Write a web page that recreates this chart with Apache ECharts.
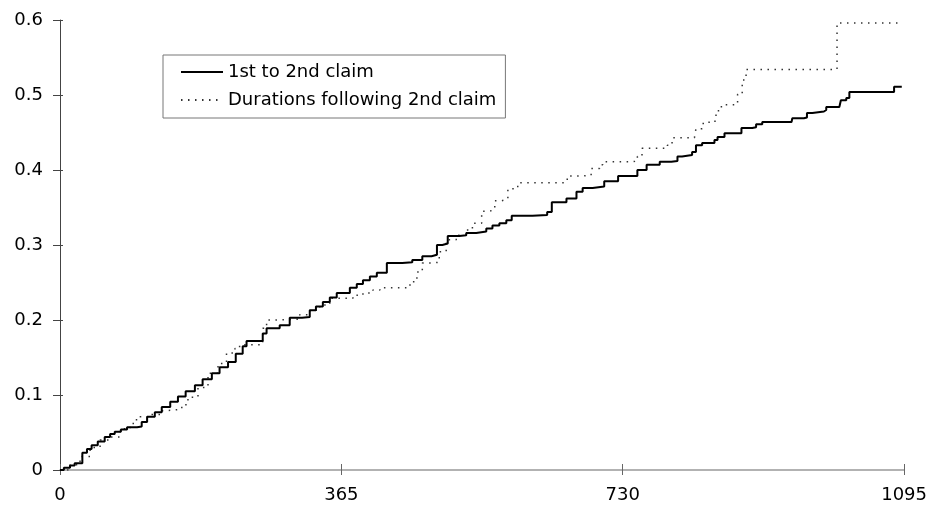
<!DOCTYPE html>
<html>
<head>
<meta charset="utf-8">
<script src="https://cdn.jsdelivr.net/npm/echarts@6/dist/echarts.min.js"></script>
<style>
  html, body { margin: 0; padding: 0; background: #fff; }
  #chart { width: 930px; height: 508px; }
</style>
</head>
<body>
<div id="chart"></div>
<script>
// Cumulative claim rate against duration (days)
const seriesNames = ['1st to 2nd claim', 'Durations following 2nd claim'];

const xTickLabels = ['0', '365', '730', '1095'];
const yTickLabels = ['0', '0.1', '0.2', '0.3', '0.4', '0.5', '0.6'];

// 1st to 2nd claim
const firstDays = [0, 5, 13, 19, 29, 35, 41, 49, 58, 65, 71, 79, 87, 100, 106, 113, 123, 132, 143, 153,
  163, 175, 185, 197, 207, 218, 228, 237, 242, 259, 263, 268, 285, 298, 314, 324, 332, 341, 350, 359,
  376, 385, 393, 402, 411, 424, 444, 457, 470, 482, 489, 496, 503, 518, 527, 540, 553, 561, 570, 579,
  586, 613, 632, 638, 657, 670, 678, 691, 706, 724, 745, 749, 761, 778, 793, 801, 807, 820, 825, 833,
  849, 853, 862, 877, 884, 898, 903, 911, 949, 950, 965, 969, 976, 991, 994, 1011, 1013, 1020, 1024,
  1079, 1082, 1092];
const firstRates = [0, 0.003, 0.006, 0.009, 0.023, 0.028, 0.033, 0.038, 0.044, 0.048, 0.051, 0.054, 0.057, 0.058, 0.064, 0.071, 0.077, 0.084, 0.091, 0.098,
  0.105, 0.113, 0.121, 0.129, 0.137, 0.144, 0.155, 0.165, 0.172, 0.172, 0.182, 0.189, 0.193, 0.203, 0.204, 0.213, 0.218, 0.224, 0.230, 0.236,
  0.243, 0.248, 0.253, 0.258, 0.263, 0.276, 0.277, 0.280, 0.285, 0.287, 0.300, 0.302, 0.312, 0.313, 0.316, 0.318, 0.322, 0.326, 0.329, 0.333,
  0.339, 0.340, 0.344, 0.357, 0.362, 0.371, 0.376, 0.378, 0.385, 0.392, 0.392, 0.400, 0.407, 0.411, 0.412, 0.418, 0.420, 0.424, 0.433, 0.436,
  0.440, 0.444, 0.449, 0.449, 0.456, 0.457, 0.461, 0.464, 0.464, 0.469, 0.470, 0.476, 0.478, 0.480, 0.484, 0.484, 0.493, 0.496, 0.504,
  0.504, 0.511, 0.511];

// Durations following 2nd claim
const laterDays = [0, 13, 26, 39, 52, 65, 78, 91, 97, 104, 117, 130, 136, 158, 166, 179, 192, 205, 216, 227,
  233, 250, 263, 268, 276, 311, 324, 337, 350, 365, 380, 393, 406, 415, 451, 454, 463, 470, 483, 492,
  501, 514, 527, 535, 547, 557, 564, 573, 581, 592, 596, 654, 658, 678, 689, 700, 704, 743, 749, 755,
  788, 794, 823, 825, 833, 842, 851, 858, 875, 879, 885, 890, 1008, 1088];
const laterRates = [0, 0.007, 0.018, 0.030, 0.040, 0.044, 0.055, 0.062, 0.067, 0.071, 0.074, 0.079, 0.081, 0.087, 0.097, 0.110, 0.129, 0.142, 0.156, 0.162,
  0.167, 0.167, 0.189, 0.200, 0.201, 0.207, 0.213, 0.220, 0.229, 0.229, 0.233, 0.236, 0.240, 0.243, 0.243, 0.251, 0.264, 0.276, 0.277, 0.291,
  0.307, 0.313, 0.320, 0.329, 0.345, 0.347, 0.359, 0.361, 0.375, 0.378, 0.383, 0.384, 0.392, 0.393, 0.402, 0.407, 0.411, 0.412, 0.418, 0.429,
  0.433, 0.443, 0.444, 0.455, 0.462, 0.465, 0.479, 0.487, 0.487, 0.501, 0.520, 0.534, 0.596, 0.596];

const pairs = (xs, ys) => xs.map((x, i) => [x, ys[i]]);

const font = 'DejaVu Sans';
const chart = echarts.init(document.getElementById('chart'), null, { renderer: 'canvas' });

const xBase = { type: 'value', min: 0, max: 1095, interval: 365, splitLine: { show: false } };
const yBase = { type: 'value', min: 0, max: 0.6, interval: 0.1, splitLine: { show: false } };

chart.setOption({
  animation: false,
  backgroundColor: '#fff',
  grid: { left: 60, right: 25, top: 20, bottom: 38, containLabel: false },
  legend: {
    orient: 'vertical',
    left: 163,
    top: 55,
    padding: [8, 9, 9, 17],
    itemWidth: 42,
    itemHeight: 18,
    itemGap: 10,
    borderColor: '#777',
    borderWidth: 1,
    itemStyle: { opacity: 0 },
    textStyle: { fontFamily: font, fontSize: 18, color: '#000' },
    data: seriesNames
  },
  xAxis: [
    Object.assign({}, xBase, {
      axisLine: { lineStyle: { color: '#999', width: 1.5 } },
      axisTick: { show: true, length: 5, lineStyle: { color: '#666' } },
      axisLabel: {
        margin: 16, fontFamily: font, fontSize: 18, color: '#000',
        formatter: v => xTickLabels[Math.round(v / 365)]
      }
    }),
    Object.assign({}, xBase, {
      position: 'bottom',
      axisLine: { show: false },
      axisTick: { show: true, inside: true, length: 6, lineStyle: { color: '#666' } },
      axisLabel: { show: false }
    })
  ],
  yAxis: [
    Object.assign({}, yBase, {
      axisLine: { lineStyle: { color: '#444', width: 1 } },
      axisTick: { show: true, length: 7, lineStyle: { color: '#444' } },
      axisLabel: {
        margin: 17, fontFamily: font, fontSize: 18, color: '#000',
        formatter: v => yTickLabels[Math.round(v * 10)]
      }
    }),
    Object.assign({}, yBase, {
      position: 'left',
      axisLine: { show: false },
      axisTick: { show: true, inside: true, length: 3, lineStyle: { color: '#444' } },
      axisLabel: { show: false }
    })
  ],
  series: [
    {
      name: seriesNames[0],
      type: 'line',
      step: 'end',
      symbol: 'none',
      data: pairs(firstDays, firstRates),
      lineStyle: { color: '#000', width: 2 },
      itemStyle: { color: '#000' },
      z: 3
    },
    {
      name: seriesNames[1],
      type: 'line',
      step: 'end',
      symbol: 'none',
      data: pairs(laterDays, laterRates),
      lineStyle: { color: '#333', width: 1.5, type: [1.5, 5.5] },
      itemStyle: { color: '#333' },
      z: 2
    }
  ]
});
</script>
</body>
</html>
